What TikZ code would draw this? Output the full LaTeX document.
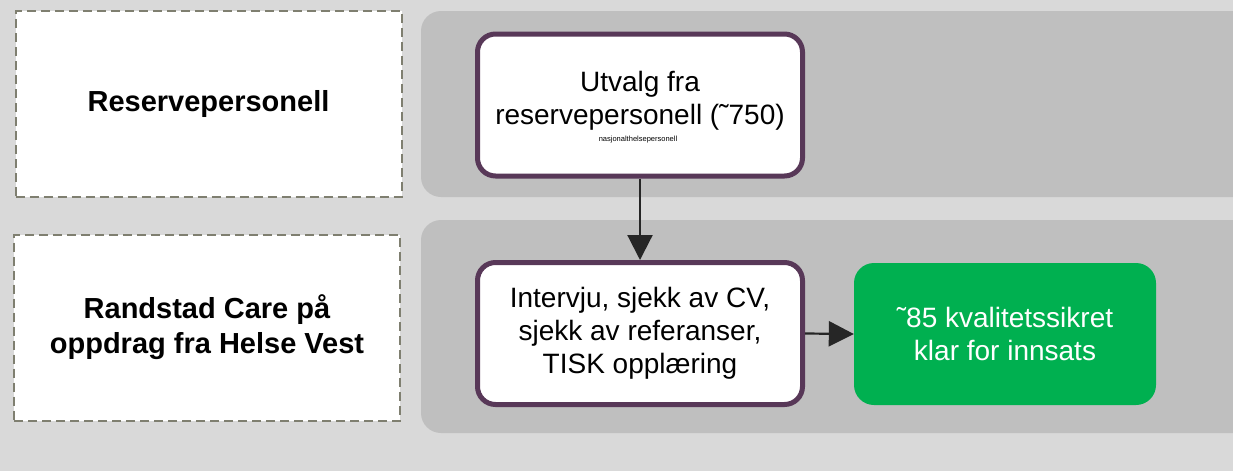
\documentclass[tikz,border=0pt]{standalone}
\usepackage{fontspec}
\setmainfont{Liberation Sans}
\usetikzlibrary{arrows.meta}
\definecolor{bgc}{HTML}{D9D9D9}
\definecolor{lanec}{HTML}{BFBFBF}
\definecolor{purp}{HTML}{583858}
\definecolor{grn}{HTML}{00B050}
\definecolor{dashc}{HTML}{7F7F70}
\definecolor{arr}{HTML}{262626}
\begin{document}
\begin{tikzpicture}[x=1pt,y=-1pt,
  lane/.style={fill=lanec, draw=none, rounded corners=20pt},
  labelbox/.style={draw=dashc, line width=2pt, dash pattern=on 9pt off 5pt, fill=white,
    minimum width=386pt, minimum height=186pt, align=center,
    font=\fontsize{29}{35}\selectfont\bfseries},
  stepbox/.style={draw=purp, line width=5pt, fill=white, rounded corners=18pt,
    minimum width=325pt, minimum height=142pt, align=center,
    font=\fontsize{28}{33}\selectfont},
  steptext/.style={align=center, font=\fontsize{28}{33}\selectfont, inner sep=0pt},
  donebox/.style={draw=none, fill=grn, rounded corners=20pt, text=white,
    minimum width=302pt, minimum height=142pt, align=center,
    font=\fontsize{28}{33}\selectfont},
  flow/.style={draw=arr, line width=2.2pt, -{Triangle[length=25pt,width=25pt]}}
]
\useasboundingbox (0,0) rectangle (1233,471);
\clip (0,0) rectangle (1233,471);
\fill[bgc] (0,0) rectangle (1233,471);
\fill[lane] (421,11) rectangle (1260,197);
\fill[lane] (421,220) rectangle (1260,433);

\node[labelbox] (lab1) at (208.5,104) {Reservepersonell};
\node[labelbox] (lab2) at (207,327.5) {Randstad Care på\\oppdrag fra Helse Vest};

\node[stepbox] (s1) at (640,105) {};
\node[steptext] (s1t) at (640,101) {Utvalg fra\\reservepersonell (˜750)};
\node[font=\fontsize{7.5}{8}\selectfont, inner sep=0pt] (tiny) at (638,140) {nasjonalthelsepersonell};
\node[stepbox] (s2) at (640,333.5) {Intervju, sjekk av CV,\\sjekk av referanser,\\TISK opplæring};
\node[donebox] (done) at (1005,334) {˜85 kvalitetssikret\\klar for innsats};

\draw[flow] (s1.south) -- (s2.north);
\draw[flow] (s2.east) -- (done.west);
\end{tikzpicture}
\end{document}
